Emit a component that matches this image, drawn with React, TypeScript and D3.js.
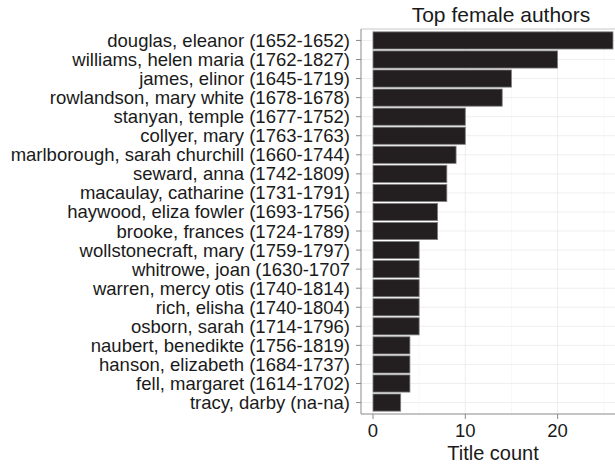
import React from "react";
import * as d3 from "d3";

const authors = [
  "douglas, eleanor (1652-1652)",
  "williams, helen maria (1762-1827)",
  "james, elinor (1645-1719)",
  "rowlandson, mary white (1678-1678)",
  "stanyan, temple (1677-1752)",
  "collyer, mary (1763-1763)",
  "marlborough, sarah churchill (1660-1744)",
  "seward, anna (1742-1809)",
  "macaulay, catharine (1731-1791)",
  "haywood, eliza fowler (1693-1756)",
  "brooke, frances (1724-1789)",
  "wollstonecraft, mary (1759-1797)",
  "whitrowe, joan (1630-1707",
  "warren, mercy otis (1740-1814)",
  "rich, elisha (1740-1804)",
  "osborn, sarah (1714-1796)",
  "naubert, benedikte (1756-1819)",
  "hanson, elizabeth (1684-1737)",
  "fell, margaret (1614-1702)",
  "tracy, darby (na-na)",
];
const titleCounts = [26, 20, 15, 14, 10, 10, 9, 8, 8, 7, 7, 5, 5, 5, 5, 5, 4, 4, 4, 3];
const xTicks = [0, 10, 20];
const xMinor = [5, 15, 25];

const W = 615;
const H = 465;
const left = 361;
const top = 29;
const bottom = 414;
const maxV = d3.max(titleCounts) as number;
const x = d3
  .scaleLinear()
  .domain([-maxV * 0.05, maxV * 1.05])
  .range([left, left + (maxV * 1.1) * 9.23]);
const n = authors.length;
const yPos = d3
  .scaleLinear()
  .domain([0.4, n + 0.6])
  .range([bottom, top]);
// top author at position n
const yc = (i: number) => yPos(n - i);
const bandH = (yPos(0) - yPos(0.9));
const right = x.range()[1];

export default function App() {
  const font = "'Liberation Sans', Arial, Helvetica, sans-serif";
  return (
    <div style={{ position: "absolute", left: 0, top: 0 }}>
      <svg width={W} height={H} style={{ display: "block" }} fontFamily={font}>
        <rect x={0} y={0} width={W} height={H} fill="#ffffff" />
        <text x={501} y={21.5} textAnchor="middle" fontSize={21} fill="#1a1a1a">
          Top female authors
        </text>
        <g>
          {xMinor.map((v) => (
            <line key={"mn" + v} x1={x(v)} x2={x(v)} y1={top} y2={bottom} stroke="#f4f4f4" strokeWidth={0.6} />
          ))}
          {authors.map((a, i) => (
            <line key={"hg" + i} x1={left} x2={right} y1={yc(i)} y2={yc(i)} stroke="#ececec" strokeWidth={0.9} />
          ))}
          {xTicks.map((v) => (
            <line key={"mj" + v} x1={x(v)} x2={x(v)} y1={top} y2={bottom} stroke="#ececec" strokeWidth={0.9} />
          ))}
        </g>
        <g>
          {titleCounts.map((v, i) => (
            <rect
              key={"b" + i}
              x={x(0)}
              y={yc(i) - bandH / 2}
              width={x(v) - x(0)}
              height={bandH}
              fill="#231f20"
              stroke="#808080"
              strokeWidth={0.8}
            />
          ))}
        </g>
        <line x1={left} x2={right} y1={top} y2={top} stroke="#c8c8c8" strokeWidth={1} />
        <line x1={left} x2={left} y1={top} y2={bottom} stroke="#8a8a8a" strokeWidth={1} />
        <line x1={left} x2={right} y1={bottom} y2={bottom} stroke="#8a8a8a" strokeWidth={1} />
        <g>
          {authors.map((a, i) => (
            <g key={"yl" + i}>
              <line x1={left - 5} x2={left} y1={yc(i)} y2={yc(i)} stroke="#8a8a8a" strokeWidth={1} />
              <text x={350} y={yc(i)} dy="0.35em" textAnchor="end" fontSize={18.5} fill="#1a1a1a">
                {a}
              </text>
            </g>
          ))}
        </g>
        <g>
          {xTicks.map((v) => (
            <g key={"xl" + v}>
              <line x1={x(v)} x2={x(v)} y1={bottom} y2={bottom + 5} stroke="#8a8a8a" strokeWidth={1} />
              <text x={x(v)} y={436.5} textAnchor="middle" fontSize={18.5} fill="#1a1a1a">
                {v}
              </text>
            </g>
          ))}
        </g>
        <text x={(left + right) / 2} y={460} textAnchor="middle" fontSize={20} fill="#1a1a1a">
          Title count
        </text>
      </svg>
    </div>
  );
}
